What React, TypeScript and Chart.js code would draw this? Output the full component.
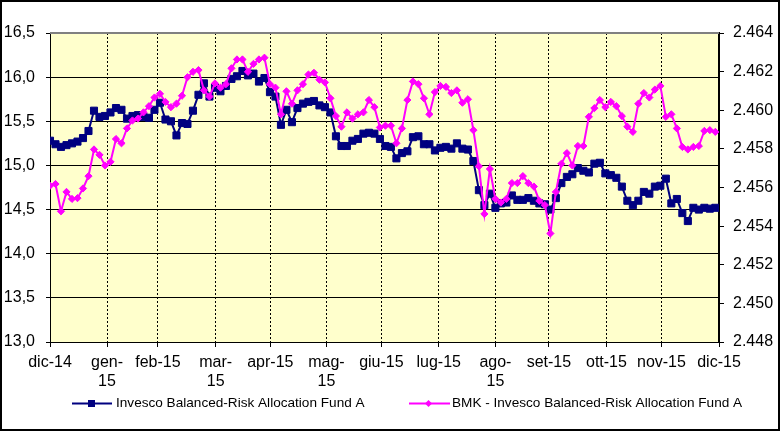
import React, { useEffect, useRef } from "react";
import { Chart, registerables } from "chart.js";

Chart.register(...registerables);

// Axis categories (month starts, position along the axis in days) and labels
const xTickDays = [0, 31.1, 58.9, 90.4, 120.2, 150.8, 180.8, 212.1, 243.0, 272.2, 303.6, 333.6, 365];
const xTickLabels: (string | string[])[] = [
  "dic-14", ["gen-", "15"], "feb-15", ["mar-", "15"], "apr-15", ["mag-", "15"],
  "giu-15", "lug-15", ["ago-", "15"], "set-15", "ott-15", "nov-15", "dic-15",
];
const leftTicks = [13, 13.5, 14, 14.5, 15, 15.5, 16, 16.5];
const rightTicks = [2.448, 2.45, 2.452, 2.454, 2.456, 2.458, 2.46, 2.462, 2.464];

const fundName = "Invesco Balanced-Risk Allocation Fund A";
const bmkName = "BMK - Invesco Balanced-Risk Allocation Fund A";

// one observation every 3 calendar days from 1 Dec 2014
const SAMPLE_STEP_DAYS = 3;

const fundValues = [
  15.28, 15.24, 15.21, 15.23, 15.25, 15.27, 15.31, 15.39, 15.62, 15.55,
  15.56, 15.60, 15.65, 15.63, 15.53, 15.56, 15.57, 15.55, 15.54, 15.63,
  15.71, 15.52, 15.50, 15.34, 15.48, 15.47, 15.62, 15.80, 15.93, 15.78,
  15.88, 15.84, 15.90, 15.98, 16.01, 16.07, 16.02, 16.04, 15.95, 15.99,
  15.83, 15.78, 15.46, 15.63, 15.49, 15.65, 15.70, 15.72, 15.73, 15.68,
  15.66, 15.60, 15.33, 15.22, 15.22, 15.28, 15.30, 15.36, 15.37, 15.36,
  15.30, 15.22, 15.21, 15.08, 15.14, 15.16, 15.32, 15.33, 15.24, 15.24,
  15.17, 15.20, 15.21, 15.19, 15.25, 15.19, 15.18, 15.05, 14.72, 14.55,
  14.68, 14.52, 14.57, 14.58, 14.66, 14.61, 14.61, 14.63, 14.60, 14.57,
  14.56, 14.50, 14.63, 14.80, 14.87, 14.90, 14.97, 14.94, 14.92, 15.02,
  15.03, 14.91, 14.89, 14.86, 14.76, 14.60, 14.55, 14.60, 14.70, 14.68,
  14.76, 14.77, 14.85, 14.57, 14.62, 14.46, 14.37, 14.52, 14.50, 14.52,
  14.51, 14.52,
];

const bmkValues = [
  2.45609, 2.45618, 2.45477, 2.45577, 2.45541, 2.45545, 2.45595, 2.45659, 2.45797, 2.45769,
  2.45714, 2.45733, 2.45851, 2.45829, 2.45906, 2.45947, 2.45957, 2.45989, 2.46021, 2.46066,
  2.46085, 2.46043, 2.46016, 2.46034, 2.46075, 2.46171, 2.46199, 2.46208, 2.46103, 2.46071,
  2.46139, 2.46117, 2.46135, 2.46217, 2.46263, 2.46263, 2.46199, 2.46240, 2.46263, 2.46272,
  2.46135, 2.46117, 2.45979, 2.46098, 2.46034, 2.46103, 2.46135, 2.46185, 2.46194, 2.46158,
  2.46144, 2.46062, 2.45970, 2.45915, 2.45989, 2.45957, 2.45979, 2.45989, 2.46053, 2.46016,
  2.45911, 2.45920, 2.45920, 2.45829, 2.45906, 2.46053, 2.46149, 2.46135, 2.46062, 2.45979,
  2.46094, 2.46126, 2.46121, 2.46089, 2.46103, 2.46039, 2.46057, 2.45897, 2.45710, 2.45463,
  2.45696, 2.45541, 2.45522, 2.45541, 2.45623, 2.45623, 2.45659, 2.45623, 2.45605, 2.45531,
  2.45509, 2.45362, 2.45577, 2.45723, 2.45778, 2.45714, 2.45815, 2.45815, 2.45966, 2.46011,
  2.46053, 2.46016, 2.46043, 2.46021, 2.45970, 2.45915, 2.45888, 2.46034, 2.46089, 2.46066,
  2.46107, 2.46126, 2.45966, 2.45979, 2.45906, 2.45810, 2.45797, 2.45810, 2.45815, 2.45893,
  2.45897, 2.45888,
];

const FONT = "Arial, 'Liberation Sans', sans-serif";
const NAVY = "#000080";
const MAGENTA = "#FF00FF";

const framePlugin = {
  id: "frame",
  beforeDraw(chart: any) {
    const { ctx, chartArea: a, width, height } = chart;
    ctx.save();
    ctx.fillStyle = "#ffffff";
    ctx.fillRect(0, 0, width, height);
    ctx.fillStyle = "#FFFFCC";
    ctx.fillRect(a.left, a.top, a.right - a.left, a.bottom - a.top);
    ctx.restore();
  },
  afterDraw(chart: any) {
    const { ctx, chartArea: a, width, height } = chart;
    ctx.save();
    ctx.strokeStyle = "#808080";
    ctx.lineWidth = 2;
    ctx.beginPath();
    ctx.moveTo(a.left, a.top);
    ctx.lineTo(a.right, a.top);
    ctx.stroke();

    ctx.strokeStyle = "#000";
    ctx.lineWidth = 2;
    ctx.strokeRect(1, 1, width - 2, height - 2);

    // legend
    const ly = 403.5;
    ctx.lineWidth = 2;
    ctx.strokeStyle = NAVY;
    ctx.beginPath();
    ctx.moveTo(72, ly);
    ctx.lineTo(112, ly);
    ctx.stroke();
    ctx.fillStyle = NAVY;
    ctx.fillRect(88, ly - 3.5, 7, 7);

    ctx.strokeStyle = MAGENTA;
    ctx.beginPath();
    ctx.moveTo(409, ly);
    ctx.lineTo(450, ly);
    ctx.stroke();
    ctx.fillStyle = MAGENTA;
    ctx.beginPath();
    ctx.moveTo(428.5 - 3.5, ly);
    ctx.lineTo(428.5, ly - 3.5);
    ctx.lineTo(428.5 + 3.5, ly);
    ctx.lineTo(428.5, ly + 3.5);
    ctx.closePath();
    ctx.fill();

    ctx.fillStyle = "#000";
    ctx.font = "13.6px " + FONT;
    ctx.textBaseline = "middle";
    ctx.textAlign = "left";
    ctx.fillText(fundName, 116, ly);
    ctx.fillText(bmkName, 452, ly);
    ctx.restore();
  },
};

export default function App() {
  const canvasRef = useRef<HTMLCanvasElement | null>(null);

  useEffect(() => {
    if (!canvasRef.current) return;
    const days = fundValues.map((_, i) => i * SAMPLE_STEP_DAYS);
    const tickFont = { family: FONT, size: 16 };
    const chart = new Chart(canvasRef.current, {
      type: "line",
      data: {
        datasets: [
          {
            label: fundName,
            data: fundValues.map((v, i) => ({ x: days[i], y: v })),
            yAxisID: "y",
            borderColor: NAVY,
            backgroundColor: NAVY,
            pointBackgroundColor: NAVY,
            pointBorderColor: NAVY,
            borderWidth: 2,
            pointStyle: "rect",
            pointRadius: 5,
            pointBorderWidth: 1,
            tension: 0,
            order: 2,
          },
          {
            label: bmkName,
            data: bmkValues.map((v, i) => ({ x: days[i], y: v })),
            yAxisID: "y2",
            borderColor: MAGENTA,
            backgroundColor: MAGENTA,
            pointBackgroundColor: MAGENTA,
            pointBorderColor: MAGENTA,
            borderWidth: 2,
            pointStyle: "rectRot",
            pointRadius: 3.6,
            pointBorderWidth: 1,
            tension: 0,
            order: 1,
          },
        ],
      },
      options: {
        responsive: false,
        animation: false,
        devicePixelRatio: 1,
        layout: { padding: { top: 33, left: 0, right: 0, bottom: 0 } },
        plugins: { legend: { display: false }, tooltip: { enabled: false } },
        scales: {
          x: {
            type: "linear",
            position: "bottom",
            min: 0,
            max: 365,
            afterBuildTicks: (s: any) => {
              s.ticks = xTickDays.map((v) => ({ value: v }));
            },
            afterFit: (s: any) => {
              s.height = 89;
            },
            ticks: {
              autoSkip: false,
              maxRotation: 0,
              minRotation: 0,
              padding: 6,
              color: "#000",
              font: tickFont,
              callback: (_v: any, i: number) => xTickLabels[i] as any,
            },
            grid: { color: "#000", lineWidth: 1, tickLength: 5, tickColor: "#000" },
            border: { display: true, color: "#000", width: 1, dash: [2, 2] },
          },
          y: {
            type: "linear",
            position: "left",
            min: 13,
            max: 16.5,
            afterBuildTicks: (s: any) => {
              s.ticks = leftTicks.map((v) => ({ value: v }));
            },
            afterFit: (s: any) => {
              s.width = 50;
            },
            ticks: {
              padding: 11,
              color: "#000",
              font: tickFont,
              callback: (v: any) => Number(v).toFixed(1).replace(".", ","),
            },
            grid: { color: "#000", lineWidth: 1, tickLength: 4, tickColor: "#000" },
            border: { display: true, color: "#000", width: 1 },
          },
          y2: {
            type: "linear",
            position: "right",
            min: 2.448,
            max: 2.464,
            afterBuildTicks: (s: any) => {
              s.ticks = rightTicks.map((v) => ({ value: v }));
            },
            afterFit: (s: any) => {
              s.width = 61;
            },
            ticks: {
              padding: 9,
              color: "#000",
              font: tickFont,
              callback: (v: any) => Number(v).toFixed(3),
            },
            grid: { drawOnChartArea: false, color: "#000", tickLength: 5, tickColor: "#000" },
            border: { display: true, color: "#000", width: 2 },
          },
        },
      },
      plugins: [framePlugin],
    } as any);
    return () => chart.destroy();
  }, []);

  return (
    <div style={{ position: "absolute", left: 0, top: 0, width: 780, height: 431 }}>
      <canvas ref={canvasRef} width={780} height={431} style={{ display: "block" }} />
    </div>
  );
}
